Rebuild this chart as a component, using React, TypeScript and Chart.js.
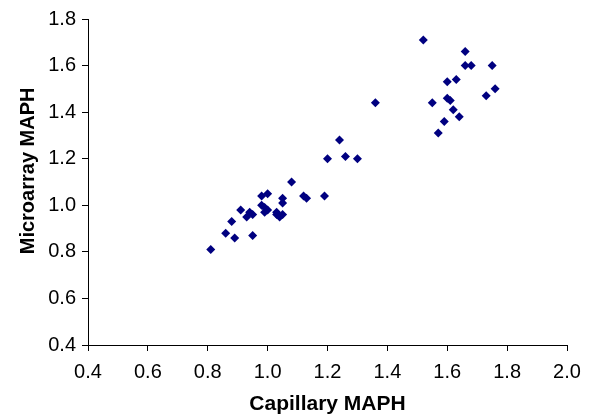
import React, { useEffect, useRef } from "react";
import { Chart, registerables } from "chart.js";

Chart.register(...registerables);

const capillary = [
  1.52, 1.66, 1.66, 1.68, 1.75, 1.63, 1.60, 1.76, 1.73, 1.55, 1.60, 1.61, 1.62, 1.64, 1.59, 1.57,
  1.36, 1.24, 1.26, 1.30, 1.20, 1.08, 1.12, 1.13, 1.19, 0.98, 1.00, 1.05, 1.05, 0.91, 0.98, 0.99,
  0.99, 1.00, 0.94, 0.95, 0.93, 1.03, 1.05, 1.04, 1.03, 0.88, 0.86, 0.89, 0.95, 0.81,
];
const microarray = [
  1.71, 1.66, 1.60, 1.60, 1.60, 1.54, 1.53, 1.50, 1.47, 1.44, 1.46, 1.45, 1.41, 1.38, 1.36, 1.31,
  1.44, 1.28, 1.21, 1.20, 1.20, 1.10, 1.04, 1.03, 1.04, 1.04, 1.05, 1.03, 1.01, 0.98, 1.00, 0.99,
  0.97, 0.98, 0.97, 0.96, 0.95, 0.97, 0.96, 0.95, 0.96, 0.93, 0.88, 0.86, 0.87, 0.81,
];
const xTitle = "Capillary MAPH";
const yTitle = "Microarray MAPH";

const FAMILY = "'Liberation Sans', Arial, sans-serif";

const yTitlePlugin = {
  id: "yTitlePlugin",
  afterDraw(chart: any) {
    const { ctx, chartArea } = chart;
    ctx.save();
    ctx.font = `bold 20px ${FAMILY}`;
    ctx.fillStyle = "#000";
    ctx.textAlign = "center";
    ctx.textBaseline = "middle";
    ctx.translate(28, chartArea.top + (chartArea.bottom - chartArea.top) * 0.466);
    ctx.rotate(-Math.PI / 2);
    ctx.fillText(yTitle, 0, 0);
    ctx.restore();
  },
};

export default function App() {
  const ref = useRef<HTMLCanvasElement>(null);
  useEffect(() => {
    const points = capillary.map((x, i) => ({ x, y: microarray[i] }));
    const font = { family: FAMILY, size: 20 };
    const chart = new Chart(ref.current!, {
      type: "scatter",
      data: {
        datasets: [
          {
            data: points,
            pointStyle: "rectRot",
            pointRadius: 4.5,
            backgroundColor: "#000080",
            borderColor: "#000080",
            borderWidth: 0,
          },
        ],
      },
      plugins: [yTitlePlugin],
      options: {
        animation: false,
        responsive: false,
        layout: { padding: { left: 0, top: 19, right: 24, bottom: 0 } },
        plugins: { legend: { display: false }, tooltip: { enabled: false } },
        scales: {
          x: {
            type: "linear",
            min: 0.4,
            max: 2.0,
            ticks: {
              stepSize: 0.2,
              color: "#000",
              font,
              padding: 9,
              maxRotation: 0,
              callback: (v: any) => Number(v).toFixed(1),
            },
            grid: { drawOnChartArea: false, drawTicks: true, tickLength: 6, color: "#000" },
            border: { display: true, color: "#000", width: 1 },
            title: {
              display: true,
              text: xTitle,
              color: "#000",
              font: { family: FAMILY, size: 21, weight: "bold" },
              padding: { top: 0, bottom: 0 },
            },
            afterFit: (s: any) => {
              s.height = 72;
            },
          },
          y: {
            type: "linear",
            min: 0.4,
            max: 1.8,
            ticks: {
              stepSize: 0.2,
              color: "#000",
              font,
              padding: 6,
              callback: (v: any) => Number(v).toFixed(1),
            },
            grid: { drawOnChartArea: false, drawTicks: true, tickLength: 6, color: "#000" },
            border: { display: true, color: "#000", width: 1 },
            afterFit: (s: any) => {
              s.width = 88;
            },
          },
        },
      },
    });
    return () => chart.destroy();
  }, []);
  return (
    <div style={{ position: "absolute", left: 0, top: 0, width: 591, height: 417, background: "#fff" }}>
      <canvas ref={ref} width={591} height={417} style={{ display: "block" }} />
    </div>
  );
}
